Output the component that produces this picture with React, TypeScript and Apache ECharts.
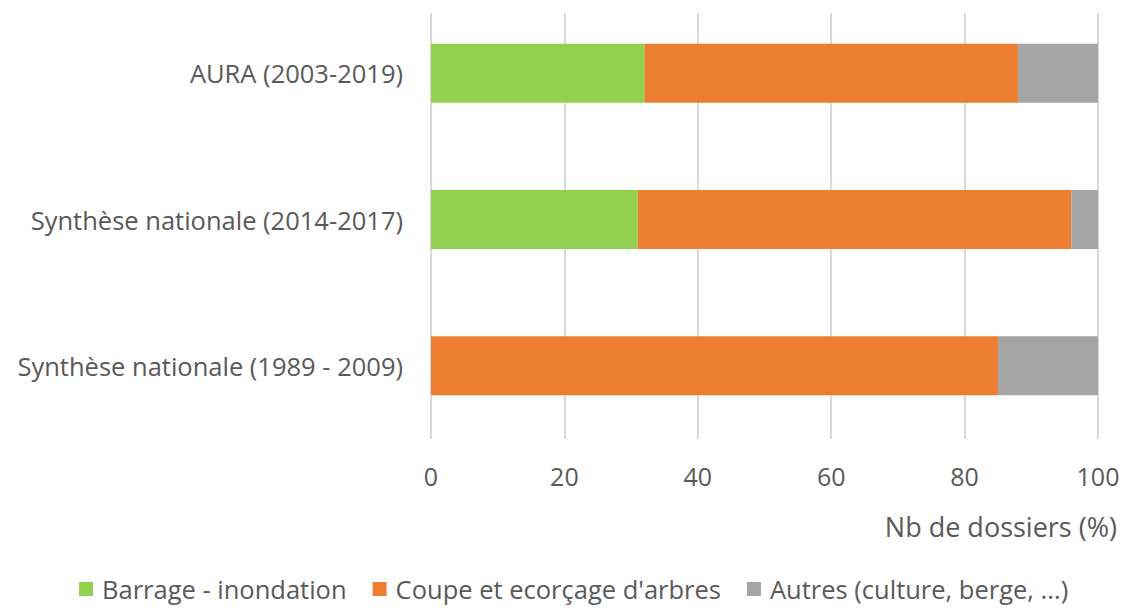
import React, { useEffect, useRef } from "react";
import * as echarts from "echarts";

const categories = [
  "Synthèse nationale (1989 - 2009)",
  "Synthèse nationale (2014-2017)",
  "AURA (2003-2019)",
];
const seriesNames = [
  "Barrage - inondation",
  "Coupe et ecorçage d'arbres",
  "Autres (culture, berge, ...)",
];
const barrage = [0, 31, 32];
const coupe = [85, 65, 56];
const autres = [15, 4, 12];
const xTicks = [0, 20, 40, 60, 80, 100];
const axisTitle = "Nb de dossiers (%)";

const colors = ["#92d050", "#ed7d31", "#a5a5a5"];
const FONT = "Open Sans";

export default function App() {
  const ref = useRef<HTMLDivElement>(null);
  useEffect(() => {
    document.body.style.margin = "0";
    const chart = echarts.init(ref.current!, null, { renderer: "svg" });
    const values = [barrage, coupe, autres];
    chart.setOption({
      animation: false,
      color: colors,
      textStyle: { fontFamily: FONT },
      grid: { left: 431, right: 26, top: -6, bottom: 169 },
      xAxis: {
        type: "value",
        min: xTicks[0],
        max: xTicks[xTicks.length - 1],
        interval: 20,
        axisLine: { show: false },
        axisTick: { show: false },
        splitLine: { lineStyle: { color: "#d9d9d9", width: 2 } },
        axisLabel: { color: "#595959", fontSize: 25, margin: 24, fontFamily: FONT },
      },
      yAxis: {
        type: "category",
        data: categories,
        axisLine: { show: false },
        axisTick: { show: false },
        axisLabel: { color: "#595959", fontSize: 25.5, margin: 28, fontFamily: FONT },
      },
      legend: {
        bottom: 1,
        left: 74,
        icon: "rect",
        itemWidth: 14,
        itemHeight: 14,
        itemGap: 26,
        textStyle: {
          color: "#595959",
          fontSize: 25.5,
          fontFamily: FONT,
          padding: [0, 0, 0, 4],
        },
        data: seriesNames,
      },
      graphic: [
        {
          type: "rect",
          z: 100,
          shape: { x: 400, y: 0, width: 724, height: 13 },
          style: { fill: "#ffffff" },
        },
        {
          type: "text",
          right: 7,
          top: 513,
          style: {
            text: axisTitle,
            fill: "#595959",
            fontSize: 27,
            fontFamily: FONT,
          },
        },
      ],
      series: seriesNames.map((name, i) => ({
        name,
        type: "bar",
        stack: "total",
        barWidth: 59,
        data: values[i],
        itemStyle: { color: colors[i] },
      })),
    });
    return () => chart.dispose();
  }, []);
  return <div ref={ref} style={{ width: 1124, height: 608 }} />;
}
